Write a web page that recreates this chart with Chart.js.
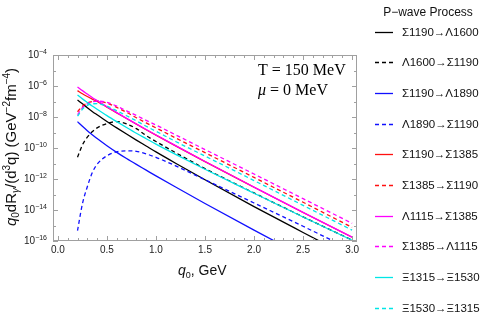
<!DOCTYPE html>
<html>
<head>
<meta charset="utf-8">
<script src="https://cdn.jsdelivr.net/npm/chart.js@4.4.1/dist/chart.umd.min.js"></script>
<style>
html, body { margin: 0; padding: 0; background: #fff; }
</style>
</head>
<body>
<canvas id="rateChart" width="489" height="328"></canvas>
<script>
// photon energy q0 in GeV
const q0 = [0.2, 0.25, 0.3, 0.35, 0.4, 0.5, 0.6, 0.7, 0.8, 0.9, 1.0, 1.2, 1.5, 2.0, 2.5, 3.0];

// log10 of q0 dR/d3q
const s1190ToL1600 = [-6.9, -7.15, -7.4, -7.64, -7.86, -8.29, -8.7, -9.1, -9.49, -9.87, -10.25, -10.98, -12.05, -13.78, -15.45, -17.1];
const l1600ToS1190 = [-10.6, -9.8, -9.3, -8.95, -8.7, -8.42, -8.3, -8.45, -8.75, -9.2, -9.58, -10.3, -11.33, -12.9, -14.44, -15.94];
const s1190ToL1890 = [-8.3, -8.6, -8.88, -9.14, -9.39, -9.85, -10.28, -10.68, -11.06, -11.43, -11.8, -12.52, -13.58, -15.3, -16.98, -18.7];
const l1890ToS1190 = [-15.33, -13.6, -12.5, -11.6, -11.05, -10.5, -10.25, -10.18, -10.22, -10.38, -10.6, -11.15, -12.05, -13.55, -15.05, -16.6];
const s1190ToS1385 = [-6.3, -6.5, -6.68, -6.85, -7.0, -7.36, -7.73, -8.1, -8.46, -8.82, -9.17, -9.86, -10.88, -12.53, -14.16, -15.76];
const s1385ToS1190 = [-7.66, -7.3, -7.1, -7.0, -6.97, -7.1, -7.38, -7.7, -8.05, -8.38, -8.7, -9.35, -10.3, -11.9, -13.5, -15.12];
const l1115ToS1385 = [-6.06, -6.3, -6.52, -6.74, -6.94, -7.34, -7.72, -8.09, -8.45, -8.81, -9.16, -9.85, -10.87, -12.52, -14.15, -15.75];
const s1385ToL1115 = [-7.85, -7.4, -7.15, -7.02, -6.98, -7.05, -7.3, -7.6, -7.9, -8.22, -8.52, -9.15, -10.1, -11.68, -13.27, -14.86];
const x1315ToX1530 = [-6.58, -6.83, -7.06, -7.29, -7.5, -7.91, -8.3, -8.68, -9.05, -9.4, -9.75, -10.41, -11.37, -12.92, -14.45, -15.95];
const x1530ToX1315 = [-7.95, -7.5, -7.25, -7.15, -7.14, -7.3, -7.6, -7.92, -8.25, -8.6, -8.92, -9.58, -10.52, -12.1, -13.7, -15.3];

const processNames = ["Σ1190→Λ1600", "Λ1600→Σ1190", "Σ1190→Λ1890", "Λ1890→Σ1190", "Σ1190→Σ1385",
                      "Σ1385→Σ1190", "Λ1115→Σ1385", "Σ1385→Λ1115", "Ξ1315→Ξ1530", "Ξ1530→Ξ1315"];
const processRates = [s1190ToL1600, l1600ToS1190, s1190ToL1890, l1890ToS1190, s1190ToS1385,
                      s1385ToS1190, l1115ToS1385, s1385ToL1115, x1315ToX1530, x1530ToX1315];
const lineColors = ["#000000", "#000000", "#1010ff", "#1010ff", "#ff1010",
                    "#ff1010", "#ff00ff", "#ff00ff", "#00e6e6", "#00e6e6"];
const isDashed = [false, true, false, true, false, true, false, true, false, true];

const xTickLabels = ["0.0", "0.5", "1.0", "1.5", "2.0", "2.5", "3.0"];
const yTickExponents = [-4, -6, -8, -10, -12, -14, -16];

const dashPattern = [4, 3];

// draws a run of text pieces (sub/superscripts) starting at x, returns the end x
function drawPieces(ctx, pieces, x, y) {
    pieces.forEach(function(p) {
        ctx.font = p.font;
        ctx.fillText(p.text, x, y + (p.dy || 0));
        x += ctx.measureText(p.text).width;
    });
    return x;
}
function piecesWidth(ctx, pieces) {
    let w = 0;
    pieces.forEach(function(p) {
        ctx.font = p.font;
        w += ctx.measureText(p.text).width;
    });
    return w;
}

const frameAndText = {
    id: "frameAndText",
    afterDraw: function(chart) {
        const ctx = chart.ctx;
        const area = chart.chartArea;
        const xs = chart.scales.x;
        const ys = chart.scales.y;
        const sans = '"Liberation Sans", Arial, sans-serif';
        const serif = '"Liberation Serif", "Times New Roman", serif';

        ctx.save();
        // frame
        ctx.strokeStyle = "#a0a0a0";
        ctx.lineWidth = 1;
        ctx.strokeRect(area.left + 0.5, area.top + 0.5, area.right - area.left - 1, area.bottom - area.top - 1);

        // x ticks, inward, on bottom and top
        ctx.beginPath();
        for (let k = 0; k <= 30; k++) {
            const px = Math.round(xs.getPixelForValue(k / 10)) + 0.5;
            const len = (k % 5 === 0) ? 5 : 3;
            ctx.moveTo(px, area.bottom);
            ctx.lineTo(px, area.bottom - len);
            ctx.moveTo(px, area.top);
            ctx.lineTo(px, area.top + len);
        }
        // y ticks, one per decade
        for (let e = -16; e <= -4; e++) {
            const py = Math.round(ys.getPixelForValue(Math.pow(10, e))) + 0.5;
            const len = (e % 2 === 0) ? 5 : 3;
            ctx.moveTo(area.left, py);
            ctx.lineTo(area.left + len, py);
            ctx.moveTo(area.right, py);
            ctx.lineTo(area.right - len, py);
        }
        ctx.stroke();

        // tick labels
        ctx.fillStyle = "#222";
        ctx.textBaseline = "middle";
        ctx.textAlign = "center";
        ctx.font = "10px " + sans;
        xTickLabels.forEach(function(lbl) {
            ctx.fillText(lbl, xs.getPixelForValue(parseFloat(lbl)), area.bottom + 9);
        });
        ctx.textAlign = "left";
        yTickExponents.forEach(function(e) {
            const py = ys.getPixelForValue(Math.pow(10, e));
            const pieces = [
                { text: "10", font: "10px " + sans },
                { text: "\u2212" + Math.abs(e), font: "7px " + sans, dy: -3 }
            ];
            const w = piecesWidth(ctx, pieces);
            drawPieces(ctx, pieces, area.left - 6 - w, py);
        });

        // axis titles
        ctx.fillStyle = "#111";
        ctx.textBaseline = "alphabetic";
        const xTitle = [
            { text: "q", font: "italic 14px " + sans },
            { text: "0", font: "9px " + sans, dy: 3 },
            { text: ", GeV", font: "14px " + sans }
        ];
        drawPieces(ctx, xTitle, 178, 275);

        const yTitle = [
            { text: "q", font: "italic 15px " + sans },
            { text: "0", font: "10px " + sans, dy: 3 },
            { text: "dR", font: "15px " + sans },
            { text: "γ", font: "italic 10px " + sans, dy: 3 },
            { text: "/(d", font: "15px " + sans },
            { text: "3", font: "10px " + sans, dy: -6 },
            { text: "q) (GeV", font: "15px " + sans },
            { text: "\u22122", font: "10px " + sans, dy: -6 },
            { text: "fm", font: "15px " + sans },
            { text: "\u22124", font: "10px " + sans, dy: -6 },
            { text: ")", font: "15px " + sans }
        ];
        ctx.save();
        ctx.translate(16, 147);
        ctx.rotate(-Math.PI / 2);
        drawPieces(ctx, yTitle, -piecesWidth(ctx, yTitle) / 2, 0);
        ctx.restore();

        // temperature / chemical potential note
        ctx.fillStyle = "#000";
        drawPieces(ctx, [{ text: "T = 150 MeV", font: "16px " + serif }], 258, 75);
        drawPieces(ctx, [
            { text: "μ", font: "italic 16px " + serif },
            { text: " = 0 MeV", font: "16px " + serif }
        ], 258, 95);

        // legend
        ctx.textBaseline = "middle";
        ctx.textAlign = "center";
        ctx.fillStyle = "#111";
        ctx.font = "12px " + sans;
        ctx.fillText("P\u2212wave Process", 428, 13);
        ctx.textAlign = "left";
        ctx.font = "11.5px " + sans;
        processNames.forEach(function(name, i) {
            const y = Math.round(31.7 + i * 30.67) + 0.5;
            ctx.strokeStyle = lineColors[i];
            ctx.lineWidth = 1.3;
            ctx.setLineDash(isDashed[i] ? dashPattern : []);
            ctx.beginPath();
            ctx.moveTo(375, y);
            ctx.lineTo(393, y);
            ctx.stroke();
            ctx.setLineDash([]);
            ctx.fillStyle = "#111";
            ctx.fillText(name, 402, y);
        });
        ctx.restore();
    }
};

const datasets = processNames.map(function(name, i) {
    return {
        label: name,
        data: q0.map(function(q, j) { return { x: q, y: Math.pow(10, processRates[i][j]) }; }),
        borderColor: lineColors[i],
        borderWidth: 1.3,
        borderDash: isDashed[i] ? dashPattern : [],
        pointRadius: 0,
        fill: false,
        cubicInterpolationMode: "monotone",
        order: processNames.length - i
    };
});

const ctx = document.getElementById("rateChart").getContext("2d");
const rateChart = new Chart(ctx, {
    type: "line",
    data: { datasets: datasets },
    options: {
        responsive: false,
        animation: false,
        layout: { padding: { left: 53, top: 55, right: 132, bottom: 87 } },
        scales: {
            x: { type: "linear", min: -0.05, max: 3.05, display: false },
            y: { type: "logarithmic", min: 1e-16, max: 1e-4, display: false }
        },
        plugins: {
            legend: { display: false },
            tooltip: { enabled: false }
        }
    },
    plugins: [frameAndText]
});
</script>
</body>
</html>
